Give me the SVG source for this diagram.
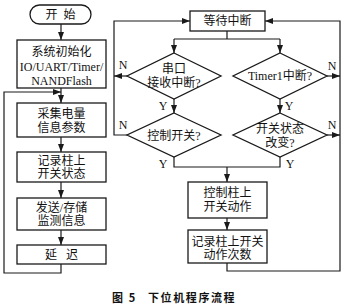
<svg xmlns="http://www.w3.org/2000/svg" width="350" height="308" viewBox="0 0 350 308">
<style>
.box{fill:#fff;stroke:#1a1a1a;stroke-width:1.3}
.ln{fill:none;stroke:#1a1a1a;stroke-width:1.2}
.t{font-family:"Liberation Serif","Noto Sans CJK SC",serif;font-size:12px;fill:#111;text-anchor:middle;dominant-baseline:central}
.cap{font-family:"Noto Sans CJK SC","Liberation Sans",sans-serif;font-size:11px;font-weight:bold;fill:#111;letter-spacing:1.6px}
</style>
<defs>
<marker id="a" markerUnits="userSpaceOnUse" markerWidth="8" markerHeight="6" refX="8" refY="3" orient="auto">
<path d="M0,0 L8,3 L0,6 z" fill="#1a1a1a"/>
</marker>
</defs>
<rect width="350" height="308" fill="#fff"/>
<g id="connectors">
<path class="ln" d="M61,24 V40" marker-end="url(#a)"/>
<path class="ln" d="M61,88 V103" marker-end="url(#a)"/>
<path class="ln" d="M61,264 V273 H4 V92 H61" marker-end="url(#a)"/>
<path class="ln" d="M61,137 V152" marker-end="url(#a)"/>
<path class="ln" d="M61,182 V198" marker-end="url(#a)"/>
<path class="ln" d="M61,230 V245" marker-end="url(#a)"/>
<path class="ln" d="M227,31 V39 M174,39 H280"/>
<path class="ln" d="M174,39 V53" marker-end="url(#a)"/>
<path class="ln" d="M280,39 V53" marker-end="url(#a)"/>
<path class="ln" d="M127,76 H114" marker-end="url(#a)"/>
<path class="ln" d="M127,135 H114 V21 H190" marker-end="url(#a)"/>
<path class="ln" d="M174,99 V113" marker-end="url(#a)"/>
<path class="ln" d="M280,99 V113" marker-end="url(#a)"/>
<path class="ln" d="M327,76 H340" marker-end="url(#a)"/>
<path class="ln" d="M327,135 H340" marker-end="url(#a)"/>
<path class="ln" d="M227,263 V271 H340 V21 H265" marker-end="url(#a)"/>
<path class="ln" d="M174,157 V167 H280 V157"/>
<path class="ln" d="M227,167 V182" marker-end="url(#a)"/>
<path class="ln" d="M227,218 V230" marker-end="url(#a)"/>
<text class="t" x="123" y="65">N</text>
<text class="t" x="123" y="125">N</text>
<text class="t" x="332" y="66">N</text>
<text class="t" x="332" y="125">N</text>
<text class="t" x="163" y="106">Y</text>
<text class="t" x="289" y="106">Y</text>
<text class="t" x="163" y="164">Y</text>
<text class="t" x="290" y="164">Y</text>
</g>
<g id="start">
<rect class="box" x="30" y="5" width="61" height="19" rx="9.5"/>
<text class="t" x="60.5" y="14.5" xml:space="preserve">开  始</text>
</g>
<g id="init">
<rect class="box" x="17" y="40" width="89" height="48"/>
<text class="t" x="61.5" y="52">系统初始化</text>
<text class="t" x="61.5" y="67">IO/UART/Timer/</text>
<text class="t" x="61.5" y="81">NANDFlash</text>
</g>
<g id="collect">
<rect class="box" x="17" y="103" width="89" height="34"/>
<text class="t" x="61.5" y="114">采集电量</text>
<text class="t" x="61.5" y="128">信息参数</text>
</g>
<g id="record-state">
<rect class="box" x="17" y="152" width="89" height="30"/>
<text class="t" x="61.5" y="161">记录柱上</text>
<text class="t" x="61.5" y="174">开关状态</text>
</g>
<g id="send">
<rect class="box" x="17" y="198" width="89" height="32"/>
<text class="t" x="61.5" y="208">发送/存储</text>
<text class="t" x="61.5" y="221">监测信息</text>
</g>
<g id="delay">
<rect class="box" x="17" y="245" width="89" height="19"/>
<text class="t" x="61.5" y="255" xml:space="preserve">延   迟</text>
</g>
<g id="wait">
<rect class="box" x="190" y="11" width="75" height="20"/>
<text class="t" x="227.5" y="21">等待中断</text>
</g>
<g id="d-uart">
<polygon class="box" points="174,53 221,76 174,99 127,76"/>
<text class="t" x="174" y="69">串口</text>
<text class="t" x="174" y="83">接收中断?</text>
</g>
<g id="d-timer">
<polygon class="box" points="280,53 327,76 280,99 233,76"/>
<text class="t" x="280" y="76">Timer1中断?</text>
</g>
<g id="d-ctrl">
<polygon class="box" points="174,113 221,135 174,157 127,135"/>
<text class="t" x="174" y="136">控制开关?</text>
</g>
<g id="d-change">
<polygon class="box" points="280,113 327,135 280,157 233,135"/>
<text class="t" x="280" y="129">开关状态</text>
<text class="t" x="280" y="143">改变?</text>
</g>
<g id="ctrl-action">
<rect class="box" x="188" y="182" width="79" height="36"/>
<text class="t" x="227.5" y="193">控制柱上</text>
<text class="t" x="227.5" y="207">开关动作</text>
</g>
<g id="record-count">
<rect class="box" x="188" y="230" width="79" height="33"/>
<text class="t" x="227.5" y="242">记录柱上开关</text>
<text class="t" x="227.5" y="255">动作次数</text>
</g>
<g id="caption">
<text class="cap" x="112" y="302">图 5</text>
<text class="cap" x="148" y="302">下位机程序流程</text>
</g>
</svg>
